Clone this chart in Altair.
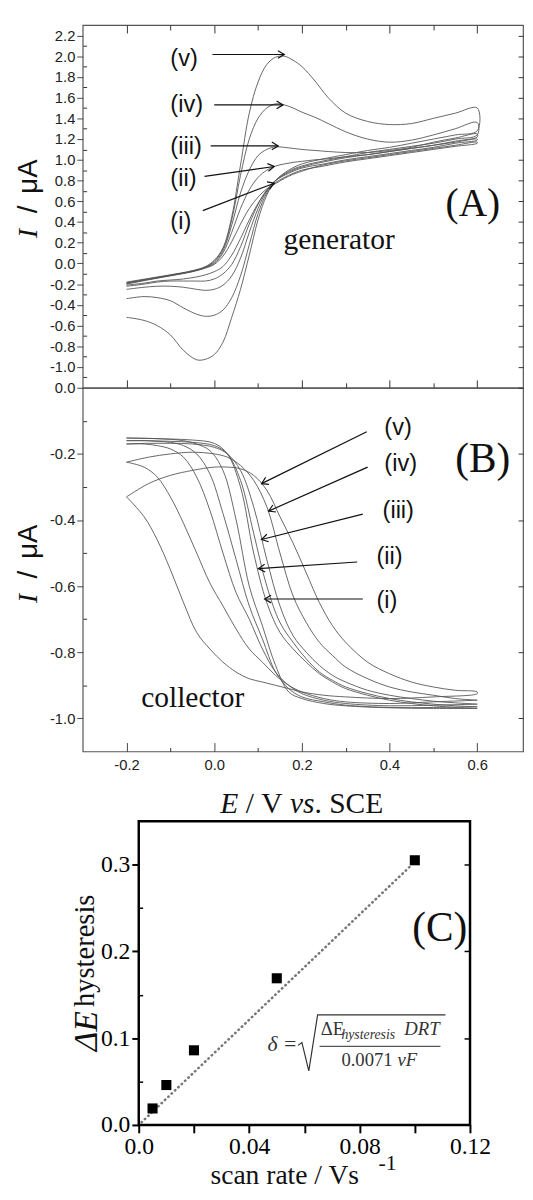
import altair as alt
import pandas as pd

# ---------------- Panel (A): generator voltammograms (i..v) ----------------
GEN_E_FWD = [-0.2, -0.15, -0.1, -0.05, -0.02, 0.0, 0.02, 0.04, 0.06, 0.08, 0.1, 0.12,
             0.14, 0.16, 0.18, 0.2, 0.23, 0.26, 0.3, 0.35, 0.4, 0.45, 0.5, 0.55, 0.6]
GEN_FWD_v = [-0.18, -0.145, -0.11, -0.07, -0.03, 0.03, 0.15, 0.45, 0.95, 1.45, 1.75, 1.92,
             1.99, 2.0, 1.96, 1.9, 1.76, 1.6, 1.45, 1.37, 1.34, 1.35, 1.4, 1.45, 1.5]
GEN_FWD_iv = [-0.185, -0.15, -0.113, -0.073, -0.035, 0.02, 0.14, 0.42, 0.85, 1.2, 1.4, 1.5,
              1.54, 1.53, 1.5, 1.46, 1.41, 1.35, 1.27, 1.2, 1.17, 1.19, 1.24, 1.3, 1.36]
GEN_FWD_iii = [-0.19, -0.152, -0.115, -0.075, -0.038, 0.01, 0.12, 0.37, 0.68, 0.9, 1.04, 1.1,
               1.125, 1.12, 1.11, 1.1, 1.09, 1.08, 1.07, 1.07, 1.09, 1.12, 1.17, 1.21, 1.25]
GEN_FWD_ii = [-0.195, -0.155, -0.117, -0.078, -0.04, 0.0, 0.1, 0.3, 0.53, 0.71, 0.83, 0.9,
              0.94, 0.96, 0.975, 0.985, 1.0, 1.01, 1.03, 1.05, 1.08, 1.11, 1.14, 1.17, 1.2]
GEN_FWD_i = [-0.2, -0.158, -0.12, -0.08, -0.045, -0.01, 0.07, 0.21, 0.38, 0.53, 0.64, 0.72,
             0.77, 0.82, 0.86, 0.89, 0.93, 0.96, 0.99, 1.02, 1.05, 1.08, 1.11, 1.14, 1.17]

GEN_E_REV = [0.6, 0.55, 0.5, 0.45, 0.4, 0.35, 0.3, 0.25, 0.2, 0.17, 0.14, 0.12, 0.1,
             0.08, 0.06, 0.04, 0.02, 0.0, -0.02, -0.04, -0.07, -0.1, -0.13, -0.16, -0.2]
GEN_REV_v = [1.28, 1.24, 1.2, 1.16, 1.12, 1.09, 1.05, 1.01, 0.96, 0.9, 0.8, 0.66, 0.42,
             0.08, -0.25, -0.52, -0.76, -0.88, -0.925, -0.93, -0.84, -0.69, -0.6, -0.55, -0.52]
GEN_REV_iv = [1.24, 1.2, 1.16, 1.13, 1.1, 1.07, 1.03, 0.99, 0.94, 0.89, 0.8, 0.68, 0.48,
              0.18, -0.12, -0.33, -0.45, -0.5, -0.51, -0.49, -0.43, -0.36, -0.33, -0.32, -0.34]
GEN_REV_iii = [1.22, 1.18, 1.14, 1.11, 1.08, 1.05, 1.02, 0.98, 0.93, 0.88, 0.8, 0.7, 0.53,
               0.3, 0.05, -0.12, -0.21, -0.25, -0.26, -0.25, -0.23, -0.22, -0.22, -0.23, -0.25]
GEN_REV_ii = [1.19, 1.16, 1.12, 1.09, 1.06, 1.03, 1.0, 0.96, 0.92, 0.87, 0.8, 0.71, 0.57,
              0.38, 0.16, -0.01, -0.1, -0.15, -0.17, -0.17, -0.17, -0.17, -0.18, -0.2, -0.22]
GEN_REV_i = [1.16, 1.13, 1.1, 1.07, 1.04, 1.01, 0.98, 0.94, 0.9, 0.85, 0.78, 0.7, 0.58,
             0.42, 0.24, 0.08, -0.03, -0.08, -0.11, -0.13, -0.15, -0.16, -0.17, -0.19, -0.21]

# ---------------- Panel (B): collector currents ----------------
COL_E_FWD = [-0.2, -0.15, -0.1, -0.05, 0.0, 0.03, 0.06, 0.09, 0.12, 0.15, 0.18, 0.21,
             0.24, 0.27, 0.3, 0.35, 0.4, 0.45, 0.5, 0.55, 0.6]
COL_FWD_v = [-0.33, -0.29, -0.265, -0.25, -0.24, -0.24, -0.245, -0.265, -0.31, -0.39, -0.47,
             -0.56, -0.65, -0.72, -0.77, -0.83, -0.865, -0.89, -0.905, -0.915, -0.92]
COL_FWD_iv = [-0.225, -0.21, -0.2, -0.195, -0.2, -0.21, -0.235, -0.28, -0.36, -0.5, -0.63,
              -0.71, -0.77, -0.81, -0.845, -0.88, -0.905, -0.92, -0.93, -0.94, -0.945]
COL_FWD_iii = [-0.17, -0.168, -0.168, -0.17, -0.18, -0.2, -0.25, -0.36, -0.52, -0.66, -0.75,
               -0.8, -0.84, -0.87, -0.89, -0.915, -0.93, -0.94, -0.948, -0.953, -0.957]
COL_FWD_ii = [-0.16, -0.16, -0.162, -0.165, -0.175, -0.2, -0.28, -0.44, -0.6, -0.71, -0.77,
              -0.82, -0.86, -0.885, -0.905, -0.925, -0.94, -0.95, -0.957, -0.962, -0.965]
COL_FWD_i = [-0.152, -0.153, -0.155, -0.158, -0.168, -0.2, -0.3, -0.5, -0.65, -0.74, -0.79,
             -0.83, -0.865, -0.89, -0.91, -0.93, -0.945, -0.955, -0.962, -0.967, -0.97]

COL_E_REV = [0.6, 0.5, 0.4, 0.3, 0.25, 0.2, 0.17, 0.14, 0.11, 0.08, 0.05, 0.02, -0.01,
             -0.04, -0.07, -0.1, -0.13, -0.16, -0.2]
COL_REV_v = [-0.925, -0.935, -0.94, -0.935, -0.93, -0.92, -0.91, -0.9, -0.89, -0.88,
             -0.86, -0.83, -0.79, -0.74, -0.65, -0.55, -0.46, -0.39, -0.33]
COL_REV_iv = [-0.945, -0.95, -0.955, -0.95, -0.94, -0.92, -0.9, -0.87, -0.83, -0.79,
              -0.73, -0.66, -0.59, -0.5, -0.41, -0.33, -0.27, -0.24, -0.225]
COL_REV_iii = [-0.957, -0.96, -0.962, -0.955, -0.945, -0.925, -0.9, -0.86, -0.79, -0.7,
               -0.62, -0.5, -0.37, -0.27, -0.21, -0.185, -0.175, -0.17, -0.17]
COL_REV_ii = [-0.965, -0.967, -0.967, -0.96, -0.95, -0.935, -0.91, -0.86, -0.76, -0.66,
              -0.52, -0.38, -0.26, -0.2, -0.175, -0.165, -0.162, -0.16, -0.16]
COL_REV_i = [-0.97, -0.97, -0.968, -0.962, -0.955, -0.94, -0.92, -0.84, -0.72, -0.6,
             -0.4, -0.25, -0.19, -0.17, -0.16, -0.156, -0.154, -0.153, -0.152]

CURVE_NAMES = ["i", "ii", "iii", "iv", "v"]
CURVE_LABELS = ["(i)", "(ii)", "(iii)", "(iv)", "(v)"]

# label / arrow annotations (data units)
A_LABEL_E = [-0.1, -0.1, -0.1, -0.1, -0.1]
A_LABEL_I = [0.40, 0.81, 1.125, 1.53, 1.97]
A_ARROW_E0 = [-0.026, -0.022, -0.008, 0.0, -0.004]
A_ARROW_I0 = [0.51, 0.84, 1.134, 1.53, 2.016]
A_ARROW_E1 = [0.137, 0.137, 0.146, 0.157, 0.16]
A_ARROW_I1 = [0.774, 0.935, 1.134, 1.53, 2.016]
A_ARROW_ANG = [339, 352, 0, 0, 0]

B_LABEL_E = [0.370, 0.370, 0.384, 0.388, 0.388]
B_LABEL_I = [-0.645, -0.512, -0.373, -0.231, -0.121]
B_ARROW_E0 = [0.339, 0.326, 0.339, 0.350, 0.348]
B_ARROW_I0 = [-0.639, -0.527, -0.382, -0.24, -0.133]
B_ARROW_E1 = [0.115, 0.101, 0.108, 0.124, 0.108]
B_ARROW_I1 = [-0.639, -0.547, -0.459, -0.373, -0.29]
B_ARROW_ANG = [180, 176, 166, 156, 154]

# tick values
X_MAJOR = [-0.2, 0.0, 0.2, 0.4, 0.6]
X_MINOR = [-0.1, 0.1, 0.3, 0.5]
A_Y_MAJOR = [-1.0, -0.8, -0.6, -0.4, -0.2, 0.0, 0.2, 0.4, 0.6, 0.8, 1.0, 1.2, 1.4, 1.6, 1.8, 2.0, 2.2]
A_Y_MINOR = [-1.1, -0.9, -0.7, -0.5, -0.3, -0.1, 0.1, 0.3, 0.5, 0.7, 0.9, 1.1, 1.3, 1.5, 1.7, 1.9, 2.1]
B_Y_MAJOR = [0.0, -0.2, -0.4, -0.6, -0.8, -1.0]
B_Y_MINOR = [-0.1, -0.3, -0.5, -0.7, -0.9]

# ---------------- Panel (C): hysteresis vs scan rate ----------------
SCAN_RATE = [0.005, 0.01, 0.02, 0.05, 0.1]
DELTA_E_HYST = [0.019, 0.046, 0.086, 0.169, 0.305]
FIT_X = [0.001, 0.099]
FIT_Y = [0.003, 0.300]
C_X_TICKS = [0.0, 0.02, 0.04, 0.06, 0.08, 0.10, 0.12]
C_Y_TICKS = [0.0, 0.1, 0.2, 0.3]
C_Y_MINOR = [0.05, 0.15, 0.25]
C_FRAME_X = [0.0, 0.12]
C_FRAME_Y = [0.0, 0.35]
RADICAL_X = [0.0577, 0.0591, 0.0616, 0.0648, 0.1111]
RADICAL_Y = [0.0917, 0.0951, 0.0623, 0.1269, 0.1269]
FRACTION_X = [0.0655, 0.1093]
FRACTION_Y = [0.0906, 0.0906]

# ---------------- styling / geometry ----------------
SERIF = "Liberation Serif"
SANS = "Liberation Sans"
INK = "#111111"
CURVE = "#555555"
W = 448
HA, HB, HC = 369, 370, 380
xs = alt.Scale(domain=[-0.3, 0.7045], nice=False, zero=False)
ysA = alt.Scale(domain=[-1.2, 2.3], nice=False, zero=False)
ysB = alt.Scale(domain=[-1.1, 0.0], nice=False, zero=False)
xsC = alt.Scale(domain=[-0.0203, 0.1392], nice=False, zero=False)
ysC = alt.Scale(domain=[0.0, 0.4304], nice=False, zero=False)
HEAD = "M-1,-0.6L0,0L-1,0.6"
LBL = "(datum.value < -0.0001 ? '-' : '') + format(abs(datum.value), '.1f')"


def loop_df(e_fwd, fwds, e_rev, revs):
    rows = []
    for name, f, r in zip(CURVE_NAMES, fwds, revs):
        assert len(f) == len(e_fwd) and len(r) == len(e_rev)
        for k, (e, v) in enumerate(zip(e_fwd + e_rev, f + r)):
            rows.append({"curve": name, "k": k, "E": e, "I": v})
    return pd.DataFrame(rows)


def tick_axis(orient, values, size, offset, color="#333", width=1.0):
    return alt.Axis(orient=orient, values=values, tickSize=size, offset=offset, labels=False,
                    domain=False, grid=False, ticks=True, title=None, tickColor=color,
                    tickWidth=width)


def carrier(sx, sy, xaxis, yaxis, xv, yv):
    df = pd.DataFrame({"x": [xv], "y": [yv]})
    return alt.Chart(df).mark_point(opacity=0).encode(
        x=alt.X("x:Q", scale=sx, axis=xaxis), y=alt.Y("y:Q", scale=sy, axis=yaxis))


def data_texts(sx, sy, xv, yv, tv, **kw):
    df = pd.DataFrame({"x": xv, "y": yv, "t": tv})
    return alt.Chart(df).mark_text(**kw).encode(
        x=alt.X("x:Q", scale=sx, axis=None), y=alt.Y("y:Q", scale=sy, axis=None), text="t:N")


def px_text(x, y, t, **kw):
    return alt.Chart(pd.DataFrame({"t": [t]})).mark_text(**kw).encode(
        x=alt.value(x), y=alt.value(y), text="t:N")


def arrows(sy, le, li, e0, i0, e1, i1, ang):
    df = pd.DataFrame({"lab": CURVE_LABELS, "le": le, "li": li, "e0": e0, "i0": i0,
                       "e1": e1, "i1": i1, "ang": ang})
    base = alt.Chart(df)
    lab = base.mark_text(font=SANS, fontSize=24, align="left", baseline="middle", color=INK).encode(
        x=alt.X("le:Q", scale=xs, axis=None), y=alt.Y("li:Q", scale=sy, axis=None), text="lab:N")
    shaft = base.mark_rule(color=INK, strokeWidth=1.2).encode(
        x=alt.X("e0:Q", scale=xs, axis=None), y=alt.Y("i0:Q", scale=sy, axis=None),
        x2="e1:Q", y2="i1:Q")
    head = base.mark_point(shape=HEAD, filled=False, color=INK, strokeWidth=1.2, size=170,
                           opacity=1).encode(
        x=alt.X("e1:Q", scale=xs, axis=None), y=alt.Y("i1:Q", scale=sy, axis=None),
        angle=alt.Angle("ang:Q", scale=None))
    return [lab, shaft, head]


def y_title(center):
    return [
        px_text(-54, center + 34, "I", font=SERIF, fontSize=28, fontStyle="italic", angle=270,
                align="left", baseline="middle", color=INK),
        px_text(-54, center + 9, "/", font=SANS, fontSize=28, angle=270, align="left",
                baseline="middle", color=INK),
        px_text(-54, center - 11, "μA", font=SANS, fontSize=28, angle=270, align="left",
                baseline="middle", color=INK),
    ]


frame_view = alt.ViewBackground(stroke="#555555", strokeWidth=1.2)
ylab_kw = dict(labelExpr=LBL, labelFont=SANS, labelFontSize=15, labelPadding=2,
               labelColor="#222", tickColor="#444", domain=False, grid=False, title=None,
               labelOverlap=False, labelFlush=False)

# ---------------- build (A) ----------------
dfA = loop_df(GEN_E_FWD, [GEN_FWD_i, GEN_FWD_ii, GEN_FWD_iii, GEN_FWD_iv, GEN_FWD_v],
              GEN_E_REV, [GEN_REV_i, GEN_REV_ii, GEN_REV_iii, GEN_REV_iv, GEN_REV_v])
curvesA = alt.Chart(dfA).mark_line(color=CURVE, strokeWidth=0.9, interpolate="catmull-rom").encode(
    x=alt.X("E:Q", scale=xs, axis=tick_axis("bottom", X_MAJOR, 8, -8)),
    y=alt.Y("I:Q", scale=ysA, axis=alt.Axis(orient="left", values=A_Y_MAJOR, tickSize=6, **ylab_kw)),
    detail="curve:N", order="k:Q")
layersA = [
    curvesA,
    carrier(xs, ysA, tick_axis("bottom", X_MINOR, 5, -5), tick_axis("left", A_Y_MINOR, 4, -4), 0.0, 0.0),
    carrier(xs, ysA, tick_axis("top", X_MAJOR, 8, -8), tick_axis("right", A_Y_MAJOR, 5, -5), 0.0, 0.0),
    carrier(xs, ysA, tick_axis("top", X_MINOR, 5, -5), None, 0.0, 0.0),
    data_texts(xs, ysA, [0.285], [0.222], ["generator"], font=SERIF, fontSize=30, color=INK,
               align="center", baseline="middle"),
    data_texts(xs, ysA, [0.59], [0.573], ["(A)"], font=SERIF, fontSize=40, color=INK,
               align="center", baseline="middle"),
] + arrows(ysA, A_LABEL_E, A_LABEL_I, A_ARROW_E0, A_ARROW_I0, A_ARROW_E1, A_ARROW_I1, A_ARROW_ANG) \
  + y_title(HA / 2 - 2)
chartA = alt.layer(*layersA).resolve_axis(x="independent", y="independent").properties(
    width=W, height=HA, view=frame_view)

# ---------------- build (B) ----------------
dfB = loop_df(COL_E_FWD, [COL_FWD_i, COL_FWD_ii, COL_FWD_iii, COL_FWD_iv, COL_FWD_v],
              COL_E_REV, [COL_REV_i, COL_REV_ii, COL_REV_iii, COL_REV_iv, COL_REV_v])
curvesB = alt.Chart(dfB).mark_line(color=CURVE, strokeWidth=0.9, interpolate="catmull-rom").encode(
    x=alt.X("E:Q", scale=xs, axis=alt.Axis(orient="bottom", values=X_MAJOR, tickSize=9, offset=-9,
                                           labelExpr=LBL, labelFont=SANS, labelFontSize=15,
                                           labelPadding=6, labelColor="#222", tickColor="#444",
                                           domain=False, grid=False, title=None,
                                           labelOverlap=False, labelFlush=False)),
    y=alt.Y("I:Q", scale=ysB, axis=alt.Axis(orient="left", values=B_Y_MAJOR, tickSize=6, **ylab_kw)),
    detail="curve:N", order="k:Q")
E_TITLE_Y = 424
layersB = [
    curvesB,
    carrier(xs, ysB, tick_axis("bottom", X_MINOR, 4, -4), tick_axis("left", B_Y_MINOR, 4, -4), 0.0, -0.5),
    carrier(xs, ysB, None, tick_axis("right", B_Y_MAJOR, 5, -5), 0.0, -0.5),
    data_texts(xs, ysB, [-0.049], [-0.94], ["collector"], font=SERIF, fontSize=30, color=INK,
               align="center", baseline="middle"),
    data_texts(xs, ysB, [0.6126], [-0.217], ["(B)"], font=SERIF, fontSize=42, color=INK,
               align="center", baseline="middle"),
    px_text(140, E_TITLE_Y, "E", font=SERIF, fontSize=30, fontStyle="italic", align="left", color=INK),
    px_text(165.8, E_TITLE_Y, "/", font=SERIF, fontSize=30, align="left", color=INK),
    px_text(181.6, E_TITLE_Y, "V", font=SERIF, fontSize=30, align="left", color=INK),
    px_text(210.8, E_TITLE_Y, "vs", font=SERIF, fontSize=30, fontStyle="italic", align="left", color=INK),
    px_text(235.8, E_TITLE_Y, ".", font=SERIF, fontSize=30, align="left", color=INK),
    px_text(250.8, E_TITLE_Y, "SCE", font=SERIF, fontSize=30, align="left", color=INK),
] + arrows(ysB, B_LABEL_E, B_LABEL_I, B_ARROW_E0, B_ARROW_I0, B_ARROW_E1, B_ARROW_I1, B_ARROW_ANG) \
  + y_title(HB / 2)
chartB = alt.layer(*layersB).resolve_axis(x="independent", y="independent").properties(
    width=W, height=HB, view=frame_view)

# ---------------- build (C) ----------------
dfC = pd.DataFrame({"rate": SCAN_RATE, "dE": DELTA_E_HYST})
frame = alt.Chart(pd.DataFrame({"x": [C_FRAME_X[0]], "x2": [C_FRAME_X[1]],
                                "y": [C_FRAME_Y[0]], "y2": [C_FRAME_Y[1]]})).mark_rect(
    fillOpacity=0, stroke="black", strokeWidth=2.5).encode(
    x=alt.X("x:Q", scale=xsC, axis=None), x2="x2:Q",
    y=alt.Y("y:Q", scale=ysC, axis=None), y2="y2:Q")
fit = alt.Chart(pd.DataFrame({"x": FIT_X, "y": FIT_Y})).mark_line(
    color="#777777", strokeWidth=2.6, strokeDash=[0.5, 4.2], strokeCap="round").encode(
    x=alt.X("x:Q", scale=xsC, axis=None), y=alt.Y("y:Q", scale=ysC, axis=None))
pts = alt.Chart(dfC).mark_point(shape="square", filled=True, color="black", size=105, opacity=1).encode(
    x=alt.X("rate:Q", scale=xsC, axis=alt.Axis(
        orient="bottom", values=C_X_TICKS, tickSize=8, tickWidth=2, tickColor="black",
        labelExpr="datum.value < 0.001 ? '0.0' : (abs(round(datum.value * 100) % 4) < 0.5 ? format(datum.value, '.2f') : '')",
        labelFont=SERIF, labelFontSize=24, labelPadding=2, labelColor="black", domain=False,
        grid=False, title=None, labelOverlap=False, labelFlush=False)),
    y=alt.Y("dE:Q", scale=ysC, axis=alt.Axis(
        orient="left", values=C_Y_TICKS, offset=-57, tickSize=7, tickWidth=2, tickColor="black",
        labelExpr="format(datum.value, '.1f')", labelFont=SERIF, labelFontSize=24, labelPadding=2,
        labelColor="black", domain=False, grid=False, title=None, labelOverlap=False,
        labelFlush=False)))
radical = alt.Chart(pd.DataFrame({"x": RADICAL_X, "y": RADICAL_Y, "k": list(range(len(RADICAL_X)))})).mark_line(
    color="#333333", strokeWidth=1.2).encode(
    x=alt.X("x:Q", scale=xsC, axis=None), y=alt.Y("y:Q", scale=ysC, axis=None), order="k:Q")
fraction = alt.Chart(pd.DataFrame({"x": [FRACTION_X[0]], "x2": [FRACTION_X[1]], "y": [FRACTION_Y[0]]})).mark_rule(
    color="#555555", strokeWidth=1.2).encode(
    x=alt.X("x:Q", scale=xsC, axis=None), x2="x2:Q", y=alt.Y("y:Q", scale=ysC, axis=None))
fkw = dict(font=SERIF, color="#333333", align="left", baseline="alphabetic")
layersC = [
    frame, fit, pts,
    carrier(xsC, ysC, None, tick_axis("left", C_Y_MINOR, 4, -61, "black", 1.5), 0.05, 0.1),
    carrier(xsC, ysC, None, tick_axis("right", [0.1, 0.2, 0.3], 6, -60, "black", 1.5), 0.05, 0.1),
    data_texts(xsC, ysC, [0.109], [0.2265], ["(C)"], font=SERIF, fontSize=42, color=INK,
               align="center", baseline="middle"),
    data_texts(xsC, ysC, [0.0466], [0.0929], ["δ ="], font=SERIF, fontSize=22, fontStyle="italic",
               color="#333333", align="left", baseline="middle"),
    data_texts(xsC, ysC, [0.0659, 0.0734], [0.1031, 0.068], ["ΔE", "0.0071"], fontSize=19, **fkw),
    data_texts(xsC, ysC, [0.0962, 0.0937], [0.1031, 0.068], ["DRT", "vF"], fontSize=19,
               fontStyle="italic", **fkw),
    data_texts(xsC, ysC, [0.0734], [0.0985], ["hysteresis"], fontSize=14, fontStyle="italic", **fkw),
    radical, fraction,
    px_text(15, 305, "ΔE", font=SERIF, fontSize=34, fontStyle="italic", angle=270, align="left",
            baseline="alphabetic", color=INK),
    px_text(12, 260, "hysteresis", font=SERIF, fontSize=29, angle=270, align="left",
            baseline="alphabetic", color=INK),
    px_text(130, 440, "scan rate / Vs", font=SERIF, fontSize=28, align="left",
            baseline="alphabetic", color=INK),
    px_text(301, 426, "-1", font=SERIF, fontSize=22, align="left", baseline="alphabetic", color=INK),
]
chartC = alt.layer(*layersC).resolve_axis(x="independent", y="independent").properties(
    width=W, height=HC, view=alt.ViewBackground(stroke="transparent"))

chart = alt.vconcat(chartA, chartB, chartC, spacing=0, bounds="flush").properties(
    padding={"left": 7, "top": 5, "right": 0, "bottom": 0}
).configure_view(stroke="transparent").configure_axis(grid=False)

chart.save("out.html", embed_options={"renderer": "svg", "actions": False})
